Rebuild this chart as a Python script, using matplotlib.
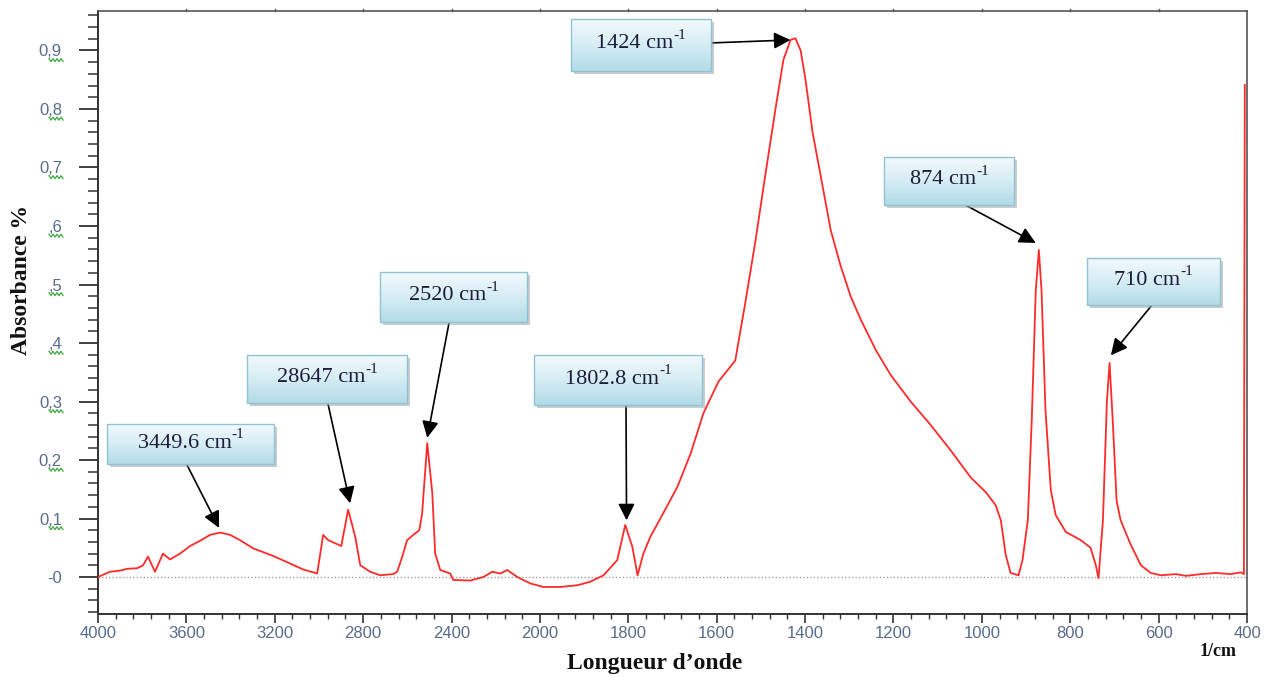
import numpy as np
import matplotlib
matplotlib.use("Agg")
import matplotlib.pyplot as plt
from matplotlib.patches import Rectangle
from matplotlib.colors import LinearSegmentedColormap
from matplotlib.ticker import FixedLocator, FixedFormatter, NullFormatter
import matplotlib.transforms as mtransforms

# ---------------- data ----------------
wavenumber = [4000, 3946, 3900, 3869, 3823, 3796, 3774, 3742, 3706, 3674, 3629, 3583, 3538, 3493,
              3447, 3402, 3357, 3298, 3207, 3130, 3072, 3008, 2981, 2958, 2899, 2868, 2836, 2813,
              2768, 2723, 2664, 2646, 2623, 2601, 2573, 2546, 2533, 2510, 2487, 2474, 2451, 2406,
              2392, 2315, 2256, 2216, 2179, 2148, 2102, 2043, 1992, 1954, 1915, 1886, 1856, 1825,
              1807, 1791, 1779, 1766, 1750, 1721, 1689, 1659, 1630, 1596, 1558, 1535, 1512, 1490,
              1467, 1449, 1433, 1422, 1410, 1399, 1383, 1365, 1342, 1320, 1297, 1274, 1240, 1206,
              1161, 1116, 1071, 1025, 991, 969, 957, 946, 935, 917, 908, 896, 887, 878, 871, 865,
              856, 844, 833, 810, 776, 754, 742, 736, 726, 717, 711, 704, 695, 686, 663, 640, 618,
              595, 561, 538, 504, 471, 437, 414, 407, 405]
absorbance = [0.000, 0.009, 0.011, 0.014, 0.015, 0.020, 0.035, 0.009, 0.040, 0.030, 0.040, 0.053,
              0.062, 0.072, 0.076, 0.072, 0.063, 0.049, 0.036, 0.023, 0.013, 0.006, 0.072, 0.063,
              0.053, 0.115, 0.069, 0.020, 0.009, 0.003, 0.005, 0.009, 0.035, 0.063, 0.072, 0.080,
              0.109, 0.229, 0.143, 0.040, 0.012, 0.006, -0.005, -0.006, 0.000, 0.009, 0.006, 0.012,
              0.000, -0.011, -0.017, -0.017, -0.014, -0.008, 0.003, 0.029, 0.089, 0.052, 0.003,
              0.040, 0.069, 0.109, 0.154, 0.211, 0.280, 0.334, 0.370, 0.470, 0.576, 0.687, 0.800,
              0.884, 0.918, 0.921, 0.900, 0.850, 0.760, 0.687, 0.593, 0.533, 0.480, 0.440, 0.388,
              0.345, 0.300, 0.260, 0.217, 0.170, 0.145, 0.123, 0.097, 0.038, 0.007, 0.003, 0.029,
              0.097, 0.270, 0.490, 0.559, 0.490, 0.285, 0.149, 0.106, 0.077, 0.063, 0.050, 0.020,
              -0.002, 0.097, 0.300, 0.366, 0.270, 0.130, 0.097, 0.055, 0.020, 0.007, 0.003, 0.005,
              0.002, 0.005, 0.007, 0.005, 0.008, 0.005, 0.841]

x_major_ticks = [4000, 3600, 3200, 2800, 2400, 2000, 1800, 1600, 1400, 1200, 1000, 800, 600, 400]
x_tick_labels = ['4000', '3600', '3200', '2800', '2400', '2000', '1800', '1600', '1400', '1200',
                 '1000', '800', '600', '400']
y_major_ticks = [0.0, 0.1, 0.2, 0.3, 0.4, 0.5, 0.6, 0.7, 0.8, 0.9]
y_tick_labels = ['-0', '0,1', '0,2', '0,3', ',4', ',5', ',6', '0,7', '0,8', '0,9']

peak_labels = ['1424', '874', '710', '2520', '28647', '1802.8', '3449.6']
peak_tip_wn = [1433, 878, 708, 2510, 2859, 1804, 3452]
peak_tip_abs = [0.918, 0.571, 0.379, 0.238, 0.126, 0.097, 0.084]

# ---------------- layout (figure pixels) ----------------
W, H = 1264, 677
box_px = [(571, 19, 711, 71), (884, 157, 1014, 205), (1087, 258, 1220, 305),
          (380, 272, 527, 322), (247, 355, 407, 403), (534, 355, 702, 405), (107, 424, 274, 464)]
tail_px = [(709, 43), (958, 201), (1152, 305), (449, 323), (328, 404), (626, 406), (187, 465)]

fig = plt.figure(figsize=(W / 100, H / 100), dpi=100)
ax = fig.add_axes([98 / W, (H - 614) / H, (1247 - 98) / W, (614 - 11) / H])


# piecewise x scale: 2x expansion below 2000 cm-1
def fwd(x):
    x = np.asarray(x, dtype=float)
    return np.where(x >= 2000, x, 2 * x - 2000)


def inv(y):
    y = np.asarray(y, dtype=float)
    return np.where(y >= 2000, y, (y + 2000) / 2)


ax.set_xscale('function', functions=(fwd, inv))

ax.axhline(0, color='#a0a0a0', lw=1.0, ls=(0, (1, 1.5)), zorder=1)
ax.plot(wavenumber, absorbance, color='#ff2a2a', lw=1.3, zorder=3)

ax.set_xlim(4000, 400)
ax.set_ylim(-0.0632, 0.9675)

minor_x = list(np.arange(4000, 2000, -80)) + list(np.arange(2000, 399, -40))
ax.xaxis.set_major_locator(FixedLocator(x_major_ticks))
ax.xaxis.set_major_formatter(FixedFormatter(x_tick_labels))
ax.xaxis.set_minor_locator(FixedLocator(minor_x))
ax.xaxis.set_minor_formatter(NullFormatter())
ax.yaxis.set_major_locator(FixedLocator(y_major_ticks))
ax.yaxis.set_major_formatter(FixedFormatter(y_tick_labels))
ax.yaxis.set_minor_locator(FixedLocator(np.arange(-0.06, 0.97, 0.02)))
ax.yaxis.set_minor_formatter(NullFormatter())

tick_col = '#5a6b8a'
ax.tick_params(axis='x', which='major', direction='out', length=6.5, width=1.2, color='#333333',
               labelsize=12, labelcolor=tick_col, pad=2, top=False)
ax.tick_params(axis='x', which='minor', direction='out', length=3.6, width=1.0, color='#333333',
               top=False)
ax.tick_params(axis='y', which='major', direction='out', length=14, width=1.3, color='#333333',
               labelsize=12, labelcolor=tick_col, pad=12)
ax.tick_params(axis='y', which='minor', direction='out', length=7, width=1.1, color='#333333')
for lab in ax.get_xticklabels() + ax.get_yticklabels():
    lab.set_fontfamily('Liberation Sans')
for s in ['left', 'bottom']:
    ax.spines[s].set_color('#333333')
    ax.spines[s].set_linewidth(1.4)
for s in ['top', 'right']:
    ax.spines[s].set_color('#555555')
    ax.spines[s].set_linewidth(1.2)

# tiny marks on the top frame at major positions
top_tr = mtransforms.blended_transform_factory(ax.transData, ax.transAxes)
for xv in x_major_ticks[1:-1]:
    ax.plot([xv, xv], [1.0, 1.004], color='#555555', lw=1.0, transform=top_tr,
            clip_on=False, zorder=5)

# green squiggles under y labels
sq_tr = mtransforms.blended_transform_factory(fig.transFigure, ax.transData)
for v, lab in zip(y_major_ticks, y_tick_labels):
    if lab == '-0':
        continue
    xs = np.linspace(49 / W, 63 / W, 8)
    ys = v - 0.014 + np.array([0, -0.005] * 4)
    ax.plot(xs, ys, color='#3aa83a', lw=0.9, transform=sq_tr, clip_on=False, zorder=5)

# axis titles
fig.text(22 / W, 1 - 280 / H, 'Absorbance %', rotation=90, ha='center', va='center',
         fontfamily='Liberation Serif', fontweight='bold', fontsize=17, color='#111111')
fig.text(655 / W, 1 - 663 / H, 'Longueur d\u2019onde', ha='center', va='center',
         fontfamily='Liberation Serif', fontweight='bold', fontsize=17, color='#111111')
fig.text(1218 / W, 1 - 651 / H, '1/cm', ha='center', va='center',
         fontfamily='Liberation Serif', fontweight='bold', fontsize=13, color='#111111')

# overlay for callout boxes (pixel coordinates)
ov = fig.add_axes([0, 0, 1, 1], zorder=5)
ov.axis('off')
ov.patch.set_alpha(0)
grad_cmap = LinearSegmentedColormap.from_list('g', ['#f2f9fc', '#d6edf4', '#b3dbe7'])
grad = np.linspace(0, 1, 64).reshape(-1, 1)
for (x0, y0, x1, y1), lab in zip(box_px, peak_labels):
    ov.add_patch(Rectangle((x0 + 3, y0 + 3), x1 - x0, y1 - y0, facecolor='#9aa4a8',
                           edgecolor='none', alpha=0.55, zorder=1))
    ov.imshow(grad, extent=(x0, x1, y1, y0), aspect='auto', cmap=grad_cmap,
              origin='upper', zorder=2, interpolation='bilinear')
    ov.add_patch(Rectangle((x0, y0), x1 - x0, y1 - y0, facecolor='none',
                           edgecolor='#8fc2d2', lw=1.0, zorder=3))
    t = ov.text((x0 + x1) / 2 - 6, (y0 + y1) / 2 - 1, lab + ' cm', ha='center',
                va='center', fontfamily='Liberation Serif', fontsize=16, color='#1c1c3a', zorder=4)
    ov.annotate('-1', xy=(1.0, 0.62), xycoords=t, ha='left', va='bottom',
                fontfamily='Liberation Serif', fontsize=11, color='#1c1c3a', zorder=4)
ov.set_xlim(0, W)
ov.set_ylim(H, 0)

# arrows from boxes to peaks
for (tx, ty), wn, ab in zip(tail_px, peak_tip_wn, peak_tip_abs):
    ax.annotate('', xy=(wn, ab), xycoords='data', xytext=(tx, ty), textcoords=ov.transData,
                arrowprops=dict(arrowstyle='-|>,head_length=0.5,head_width=0.25',
                                mutation_scale=20, color='black', lw=1.2,
                                shrinkA=0, shrinkB=0), annotation_clip=False, zorder=6)

fig.savefig('out.png', dpi=100)
